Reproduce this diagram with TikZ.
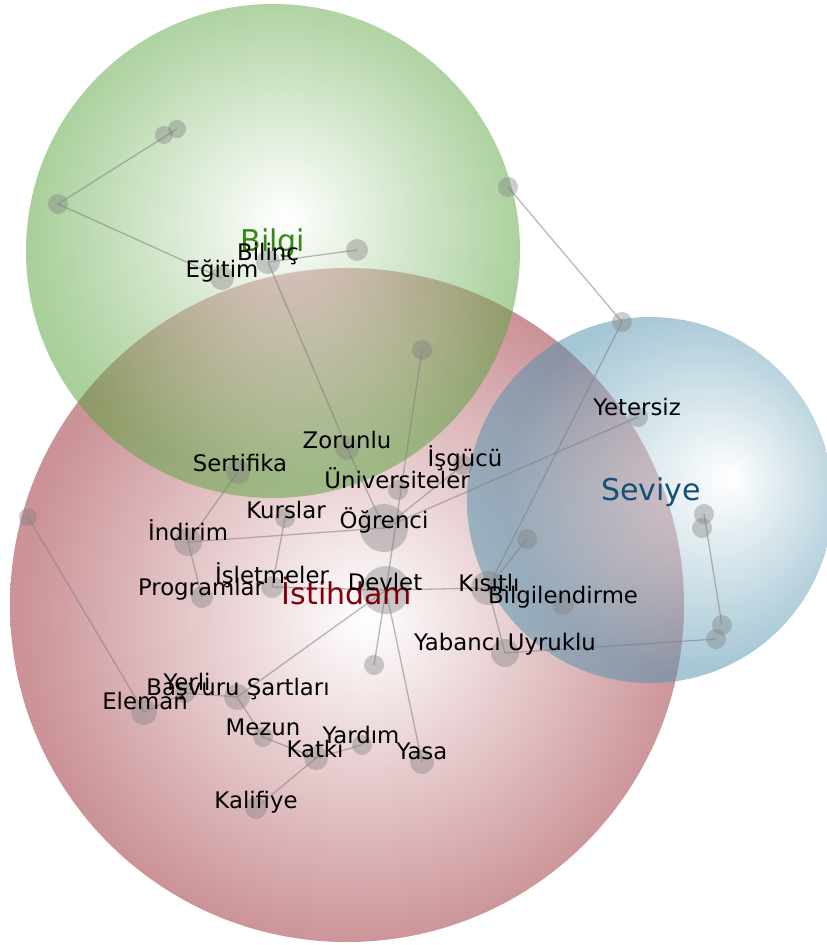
\documentclass[tikz,border=0pt]{standalone}
\usepackage{fontspec}
\setmainfont{DejaVu Sans}
\definecolor{setred}{RGB}{155,46,55}
\definecolor{setgreen}{RGB}{91,164,64}
\definecolor{setblue}{RGB}{82,146,173}
\definecolor{titlered}{RGB}{128,0,10}
\definecolor{titlegreen}{RGB}{55,135,20}
\definecolor{titleblue}{RGB}{20,80,120}
% radial glows with an off-centre highlight (disc edge sits at 25bp)
\pgfdeclareradialshading{glowred}{\pgfpoint{1.4bp}{-1.1bp}}{color(0bp)=(white); color(25bp)=(setred); color(50bp)=(setred)}
\pgfdeclareradialshading{glowgreen}{\pgfpoint{1.2bp}{3.5bp}}{color(0bp)=(white); color(25bp)=(setgreen); color(50bp)=(setgreen)}
\pgfdeclareradialshading{glowblue}{\pgfpoint{11bp}{3bp}}{color(0bp)=(white); color(25bp)=(setblue); color(50bp)=(setblue)}
\tikzset{
  setdisc/.style={fill opacity=0.52},
  dot/.style={circle, inner sep=0pt, fill=black!50, fill opacity=0.4, draw=none},
  link/.style={draw=black!50, draw opacity=0.55, line width=1.3pt},
  word/.style={anchor=base, inner sep=0pt, text=black, font=\fontsize{22.8}{27}\selectfont},
  title/.style={anchor=base, inner sep=0pt, font=\fontsize{30}{36}\selectfont},
}
\begin{document}
\begin{tikzpicture}[x=1pt,y=-1pt]
\useasboundingbox (0,0) rectangle (827,945);

% set discs
\shade[shading=glowred, setdisc] (347,605) circle[radius=337pt];
\shade[shading=glowgreen, setdisc] (273,251) circle[radius=247pt];
\shade[shading=glowblue, setdisc] (650,500) circle[radius=183pt];

% term dots
\node[dot, minimum size=18pt] (nA) at (177,129) {};
\node[dot, minimum size=18pt] (nB) at (164,135) {};
\node[dot, minimum size=20pt] (nC) at (58,204) {};
\node[dot, minimum size=24pt] (egitim) at (222,278) {};
\node[dot, minimum size=24pt] (bilinc) at (268,262) {};
\node[dot, minimum size=22pt] (nD) at (357,250) {};
\node[dot, minimum size=20pt] (nE) at (508,187) {};
\node[dot, minimum size=20pt] (nF) at (622,322) {};
\node[dot, minimum size=20pt] (nG) at (422,350) {};
\node[dot, minimum size=24pt] (zorunlu) at (347,448) {};
\node[dot, minimum size=24pt] (sertifika) at (238,472) {};
\node[dot, minimum size=20pt] (univ) at (398,490) {};
\node[dot, minimum size=20pt] (isgucu) at (463,465) {};
\node[dot, minimum size=20pt] (kurslar) at (285,518) {};
\node[dot, minimum size=48pt] (ogrenci) at (384,528) {};
\node[dot, minimum size=28pt] (indirim) at (188,542) {};
\node[dot, minimum size=22pt] (programlar) at (202,597) {};
\node[dot, minimum size=22pt] (isletmeler) at (272,587) {};
\node[dot, minimum size=48pt] (devlet) at (386,590) {};
\node[dot, minimum size=34pt] (kisitli) at (488,588) {};
\node[dot, minimum size=22pt] (bilgilendirme) at (563,604) {};
\node[dot, minimum size=20pt] (nH) at (527,539) {};
\node[dot, minimum size=20pt] (yetersiz) at (638,417) {};
\node[dot, minimum size=20pt] (nI) at (704,514) {};
\node[dot, minimum size=20pt] (nJ) at (702,528) {};
\node[dot, minimum size=20pt] (nK) at (722,625) {};
\node[dot, minimum size=20pt] (nL) at (716,639) {};
\node[dot, minimum size=28pt] (yabanci) at (505,653) {};
\node[dot, minimum size=18pt] (nM) at (28,517) {};
\node[dot, minimum size=26pt] (eleman) at (144,712) {};
\node[dot, minimum size=20pt] (yerli) at (185,693) {};
\node[dot, minimum size=26pt] (basvuru) at (237,697) {};
\node[dot, minimum size=20pt] (nN) at (374,665) {};
\node[dot, minimum size=20pt] (mezun) at (263,737) {};
\node[dot, minimum size=24pt] (katki) at (316,758) {};
\node[dot, minimum size=20pt] (yardim) at (362,745) {};
\node[dot, minimum size=24pt] (yasa) at (422,762) {};
\node[dot, minimum size=22pt] (kalifiye) at (256,808) {};

% links
\path[link] (nA.center) -- (nC.center);
\path[link] (nC.center) -- (egitim.center);
\path[link] (bilinc.center) -- (nD.center);
\path[link] (bilinc.center) -- (zorunlu.center);
\path[link] (zorunlu.center) -- (ogrenci.center);
\path[link] (nE.center) -- (nF.center);
\path[link] (nF.center) -- (kisitli.center);
\path[link] (nG.center) -- (devlet.center);
\path[link] (ogrenci.center) -- (isgucu.center);
\path[link] (ogrenci.center) -- (yetersiz.center);
\path[link] (indirim.center) -- (ogrenci.center);
\path[link] (indirim.center) -- (sertifika.center);
\path[link] (indirim.center) -- (programlar.center);
\path[link] (kurslar.center) -- (isletmeler.center);
\path[link] (isletmeler.center) -- (devlet.center);
\path[link] (devlet.center) -- (kisitli.center);
\path[link] (kisitli.center) -- (nH.center);
\path[link] (kisitli.center) -- (yabanci.center);
\path[link] (yabanci.center) -- (nL.center);
\path[link] (nI.center) -- (nK.center);
\path[link] (devlet.center) -- (basvuru.center);
\path[link] (devlet.center) -- (nN.center);
\path[link] (devlet.center) -- (yasa.center);
\path[link] (basvuru.center) -- (yerli.center);
\path[link] (yerli.center) -- (eleman.center);
\path[link] (eleman.center) -- (nM.center);
\path[link] (basvuru.center) -- (mezun.center);
\path[link] (mezun.center) -- (katki.center);
\path[link] (katki.center) -- (yardim.center);
\path[link] (katki.center) -- (kalifiye.center);

% set titles
\node[title, text=titlegreen] (tBilgi) at (273,251) {Bilgi};
\node[title, text=titlered] (tIstihdam) at (347,604) {İstihdam};
\node[title, text=titleblue] (tSeviye) at (651,500) {Seviye};

% term labels
\node[word] (lEgitim) at (222,277) {Eğitim};
\node[word] (lBilinc) at (268,260) {Bilinç};
\node[word] (lZorunlu) at (347,448) {Zorunlu};
\node[word] (lSertifika) at (240,471) {Sertifika};
\node[word] (lIsgucu) at (465,466) {İşgücü};
\node[word] (lUniv) at (397,488) {Üniversiteler};
\node[word] (lKurslar) at (286,518) {Kurslar};
\node[word] (lOgrenci) at (384,528) {Öğrenci};
\node[word] (lIndirim) at (188,540) {İndirim};
\node[word] (lProgramlar) at (201,595) {Programlar};
\node[word] (lIsletmeler) at (272,583) {İşletmeler};
\node[word] (lDevlet) at (385,590) {Devlet};
\node[word] (lKisitli) at (489,591) {Kısıtlı};
\node[word] (lBilgilendirme) at (563,603) {Bilgilendirme};
\node[word] (lYetersiz) at (637,415) {Yetersiz};
\node[word] (lYabanci) at (505,650) {Yabancı Uyruklu};
\node[word] (lEleman) at (145,709) {Eleman};
\node[word] (lYerli) at (187,690) {Yerli};
\node[word] (lBasvuru) at (238,695) {Başvuru Şartları};
\node[word] (lMezun) at (263,735) {Mezun};
\node[word] (lKatki) at (315,757) {Katkı};
\node[word] (lYardim) at (361,743) {Yardım};
\node[word] (lYasa) at (422,759) {Yasa};
\node[word] (lKalifiye) at (256,808) {Kalifiye};
\end{tikzpicture}
\end{document}
